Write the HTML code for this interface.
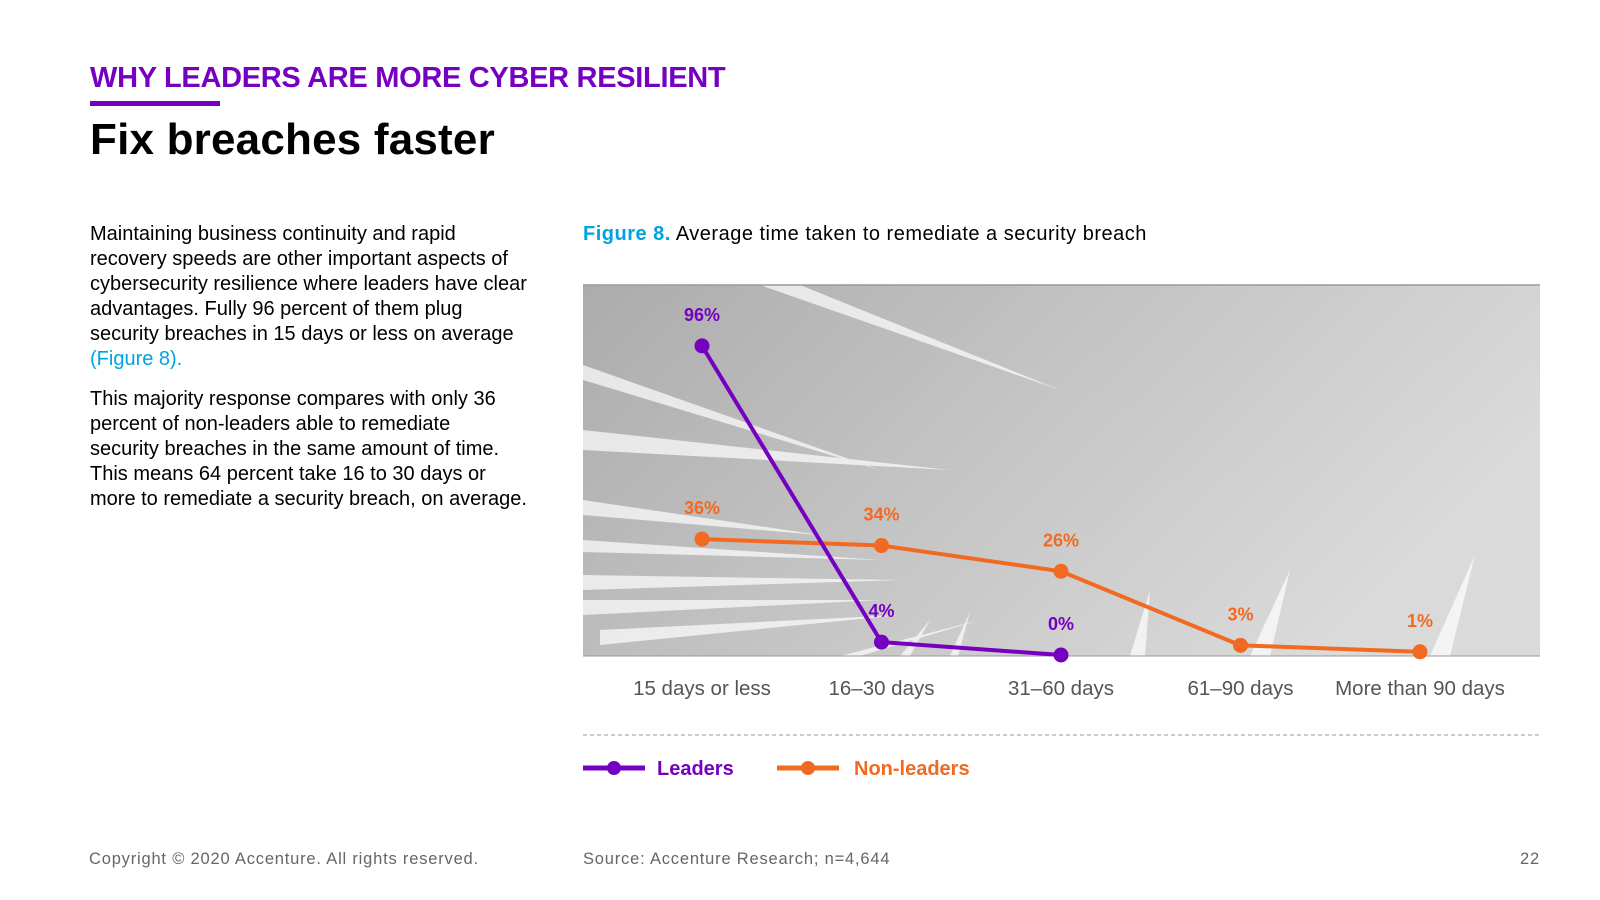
<!DOCTYPE html>
<html><head><meta charset="utf-8"><style>
html,body{margin:0;padding:0;background:#fff;}
body{width:1600px;height:900px;position:relative;overflow:hidden;font-family:"Liberation Sans",sans-serif;color:#000;}
.abs{position:absolute;white-space:nowrap;}
#kicker{left:90px;top:62px;font-size:29px;font-weight:bold;color:#7500c0;letter-spacing:-0.3px;}
#kbar{left:90px;top:101px;width:130px;height:5px;background:#7500c0;}
#title{left:90px;top:115px;font-size:44px;font-weight:bold;letter-spacing:0.2px;}
#body{left:90px;top:222px;font-size:20px;line-height:25px;}
#body p{margin:0 0 15px 0;}
.blue{color:#00a3e0;}
#cap{left:583px;top:223px;font-size:20px;letter-spacing:0.5px;}
.foot{top:850px;font-size:16.5px;color:#666;letter-spacing:0.8px;}
</style></head><body>
<div class="abs" id="kicker">WHY LEADERS ARE MORE CYBER RESILIENT</div>
<div class="abs" id="kbar"></div>
<div class="abs" id="title">Fix breaches faster</div>
<div class="abs" id="body">
<p>Maintaining business continuity and rapid<br>recovery speeds are other important aspects of<br>cybersecurity resilience where leaders have clear<br>advantages. Fully 96 percent of them plug<br>security breaches in 15 days or less on average<br><span class="blue">(Figure 8).</span></p>
<p>This majority response compares with only 36<br>percent of non-leaders able to remediate<br>security breaches in the same amount of time.<br>This means 64 percent take 16 to 30 days or<br>more to remediate a security breach, on average.</p>
</div>
<div class="abs" id="cap"><b class="blue">Figure 8.</b> Average time taken to remediate a security breach</div>

<svg id="chart" class="abs" style="left:0;top:0" width="1600" height="900">
<defs>
<linearGradient id="bg" x1="0" y1="0" x2="1" y2="0.4">
<stop offset="0" stop-color="#acacac"/><stop offset="0.5" stop-color="#c4c4c4"/><stop offset="1" stop-color="#dadada"/>
</linearGradient>
<clipPath id="clip"><rect x="583" y="285" width="957" height="371"/></clipPath>
</defs>
<rect x="583" y="285" width="957" height="371" fill="url(#bg)"/>
<g clip-path="url(#clip)" fill="#fff" opacity="0.7">
<polygon points="760,285 800,285 1060,390"/>
<polygon points="583,365 583,380 880,470"/>
<polygon points="583,430 583,450 950,470"/>
<polygon points="583,500 583,515 820,535"/>
<polygon points="583,540 583,552 880,560"/>
<polygon points="583,575 583,590 900,580"/>
<polygon points="583,600 583,615 880,600"/>
<polygon points="600,630 600,645 900,615"/>
<polygon points="840,656 860,656 980,620"/>
<polygon points="900,656 910,656 930,620"/>
<polygon points="950,656 958,656 970,612"/>
<polygon points="1130,656 1145,656 1150,590"/>
<polygon points="1250,656 1270,656 1290,570"/>
<polygon points="1430,656 1450,656 1475,555"/>
</g>
<line x1="583" y1="285" x2="1540" y2="285" stroke="#999" stroke-width="1.5"/>
<line x1="583" y1="656" x2="1540" y2="656" stroke="#999" stroke-width="1"/>
<line x1="583" y1="735" x2="1540" y2="735" stroke="#999" stroke-width="1" stroke-dasharray="4,3"/>
<g id="marks"></g>
<g>
<g>
<line x1="583" y1="768" x2="645" y2="768" stroke="#7500c0" stroke-width="5"/><circle cx="614" cy="768" r="7" fill="#7500c0"/>
<text x="657" y="775" font-size="20" font-weight="bold" fill="#7500c0">Leaders</text></g>
<g>
<line x1="777" y1="768" x2="839" y2="768" stroke="#f26a21" stroke-width="5"/><circle cx="808" cy="768" r="7" fill="#f26a21"/>
<text x="854" y="775" font-size="20" font-weight="bold" fill="#f26a21">Non-leaders</text></g>
</g>
</svg>

<div class="abs foot" style="left:89px">Copyright © 2020 Accenture. All rights reserved.</div>
<div class="abs foot" style="left:583px">Source: Accenture Research; n=4,644</div>
<div class="abs foot" style="right:60px">22</div>

<script>
const categories = ["15 days or less","16–30 days","31–60 days","61–90 days","More than 90 days"];
const leaders = [96, 4, 0, null, null];
const nonLeaders = [36, 34, 26, 3, 1];
const NS="http://www.w3.org/2000/svg";
const x = i => 702 + i*179.5;
const y = v => 655 - v*3.22;
const g = document.getElementById('marks');
function mk(t,a){const e=document.createElementNS(NS,t);for(const k in a)e.setAttribute(k,a[k]);g.appendChild(e);return e;}
categories.forEach((c,i)=>{
  const t=mk('text',{x:x(i),y:695,'font-size':20.5,fill:'#555','text-anchor':'middle'});
  t.textContent=c;
  
  
});
function series(vals,color,name){
  const pts=[];vals.forEach((v,i)=>{if(v!==null)pts.push([x(i),y(v),v]);});
  const pl=mk('polyline',{points:pts.map(p=>p[0]+','+p[1]).join(' '),fill:'none',stroke:color,'stroke-width':4});
  
  
  pts.forEach(p=>{
    const c=mk('circle',{cx:p[0],cy:p[1],r:7.5,fill:color});
    
    
    const t=mk('text',{x:p[0],y:p[1]-25,'font-size':18,'font-weight':'bold',fill:color,'text-anchor':'middle'});
    t.textContent=p[2]+'%';
    
    
  });
}
series(nonLeaders,'#f26a21','non-leaders');
series(leaders,'#7500c0','leaders');
</script>
</body></html>
